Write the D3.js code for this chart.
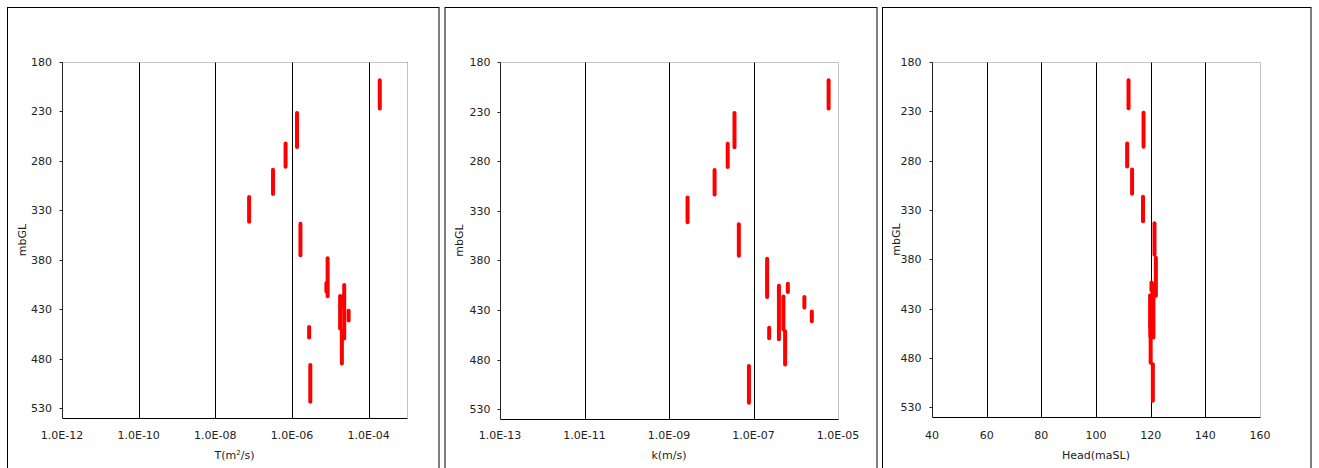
<!DOCTYPE html>
<html>
<head>
<meta charset="utf-8">
<script src="https://cdn.jsdelivr.net/npm/d3@7/dist/d3.min.js"></script>
<style>
  html, body { margin: 0; padding: 0; background: #fff; }
  svg { display: block; }
  text { font-family: "DejaVu Sans", sans-serif; font-size: 11px; fill: #222; }
</style>
</head>
<body>
<svg id="chart" width="1319" height="468"></svg>
<script>
// ---- Data ----
// Test intervals: top and bottom depth (mbGL)
const intervalTop    = [197, 230, 261, 287.5, 315, 342, 377, 402, 404, 415, 415.5, 430, 446.5, 450, 485];
const intervalBottom = [228.5, 267.5, 287.5, 315, 343, 377, 418.5, 413.5, 461, 451, 429, 443, 460, 486.5, 525];
// Transmissivity T (m2/s)
const transmissivity = [1.95e-4, 1.35e-6, 6.8e-7, 3.2e-7, 7.6e-8, 1.66e-6, 8.5e-6, 7.9e-6, 2.3e-5, 1.8e-5, 2.2e-5, 3.0e-5, 2.8e-6, 2.0e-5, 3.0e-6];
// Hydraulic conductivity k (m/s)
const conductivity = [6.0e-6, 3.55e-8, 2.45e-8, 1.2e-8, 2.75e-9, 4.5e-8, 2.1e-7, 6.5e-7, 4.0e-7, 5.1e-7, 1.6e-6, 2.4e-6, 2.35e-7, 5.6e-7, 7.8e-8];
// Head (maSL)
const head = [111.9, 117.4, 111.4, 113.2, 117.2, 121.4, 121.9, 120.3, 121.0, 119.8, 120.5, 120.6, 119.9, 120.0, 120.8];

// Axis ticks and labels
const depthTicks = [180, 230, 280, 330, 380, 430, 480, 530];
const depthDomain = [180, 540];
const tTicks = [1e-12, 1e-10, 1e-8, 1e-6, 1e-4];
const tTickLabels = ["1.0E-12", "1.0E-10", "1.0E-08", "1.0E-06", "1.0E-04"];
const tDomain = [1e-12, 1e-3];
const kTicks = [1e-13, 1e-11, 1e-9, 1e-7, 1e-5];
const kTickLabels = ["1.0E-13", "1.0E-11", "1.0E-09", "1.0E-07", "1.0E-05"];
const kDomain = [1e-13, 1e-5];
const headTicks = [40, 60, 80, 100, 120, 140, 160];
const headTickLabels = ["40", "60", "80", "100", "120", "140", "160"];
const headDomain = [40, 160];
const yTitle = "mbGL";

// ---- Layout ----
const svg = d3.select("#chart");

const panels = [
  { box: [7, 438.5], plot: { l: 62, r: 407, t: 62, b: 418 }, log: true,
    domain: tDomain, ticks: tTicks, labels: tTickLabels, values: transmissivity,
    title: "T", titleSup: true, yTitleX: 22, yLabelX: 52 },
  { box: [444.5, 876.5], plot: { l: 500, r: 838, t: 62, b: 419 }, log: true,
    domain: kDomain, ticks: kTicks, labels: kTickLabels, values: conductivity,
    title: "k(m/s)", yTitleX: 458.5, yLabelX: 490.5 },
  { box: [882, 1310.5], plot: { l: 932, r: 1260, t: 62, b: 417 }, log: false,
    domain: headDomain, ticks: headTicks, labels: headTickLabels, values: head,
    title: "Head(maSL)", yTitleX: 895.5, yLabelX: 921.5 }
];

panels.forEach(p => {
  const g = svg.append("g");
  const P = p.plot;
  // outer frame (bottom edge lies outside the window)
  g.append("rect")
    .attr("x", p.box[0] + 0.5).attr("y", 7.5)
    .attr("width", p.box[1] - p.box[0]).attr("height", 480)
    .attr("fill", "#fff").attr("stroke", "#000").attr("stroke-width", 1);

  const x = (p.log ? d3.scaleLog() : d3.scaleLinear()).domain(p.domain).range([P.l, P.r]);
  const y = d3.scaleLinear().domain(depthDomain).range([P.t, P.b]);
  const px = v => Math.round(v) + 0.5;

  // dotted top and right plot borders
  g.append("line").attr("x1", px(P.l)).attr("x2", px(P.r)).attr("y1", px(P.t)).attr("y2", px(P.t))
    .attr("stroke", "#888").attr("stroke-dasharray", "1,1");
  g.append("line").attr("x1", px(P.r)).attr("x2", px(P.r)).attr("y1", px(P.t)).attr("y2", px(P.b))
    .attr("stroke", "#888").attr("stroke-dasharray", "1,1");

  // vertical gridlines at inner ticks
  const inner = p.ticks.filter(t => x(t) > P.l + 1 && x(t) < P.r - 1);
  g.selectAll(".grid").data(inner).enter().append("line")
    .attr("x1", d => px(x(d))).attr("x2", d => px(x(d)))
    .attr("y1", px(P.t)).attr("y2", px(P.b))
    .attr("stroke", "#000").attr("stroke-width", 1);

  // left and bottom axis lines
  g.append("line").attr("x1", px(P.l)).attr("x2", px(P.l)).attr("y1", px(P.t)).attr("y2", px(P.b))
    .attr("stroke", "#222");
  g.append("line").attr("x1", px(P.l)).attr("x2", px(P.r)).attr("y1", px(P.b)).attr("y2", px(P.b))
    .attr("stroke", "#000");

  // y ticks + labels
  g.selectAll(".yt").data(depthTicks).enter().append("line")
    .attr("x1", px(P.l) - 3).attr("x2", px(P.l))
    .attr("y1", d => px(y(d))).attr("y2", d => px(y(d)))
    .attr("stroke", "#222");
  g.selectAll(".yl").data(depthTicks).enter().append("text")
    .attr("x", p.yLabelX).attr("y", d => y(d) + 4)
    .attr("text-anchor", "end").text(d => d);

  // x tick labels
  g.selectAll(".xl").data(p.ticks).enter().append("text")
    .attr("x", d => x(d)).attr("y", 439)
    .attr("text-anchor", "middle").text((d, i) => p.labels[i]);

  // x title
  const cx = (P.l + P.r) / 2;
  const tt = g.append("text").attr("x", cx).attr("y", 459).attr("text-anchor", "middle");
  if (p.titleSup) {
    tt.append("tspan").text("T(m");
    tt.append("tspan").attr("dy", -4).attr("font-size", "7px").text("2");
    tt.append("tspan").attr("dy", 4).text("/s)");
  } else {
    tt.text(p.title);
  }

  // y title
  g.append("text")
    .attr("transform", `translate(${p.yTitleX + 4},${(P.t + P.b) / 2}) rotate(-90)`)
    .attr("text-anchor", "middle").text(yTitle);

  // interval segments
  g.selectAll(".seg").data(p.values).enter().append("line")
    .attr("x1", d => x(d)).attr("x2", d => x(d))
    .attr("y1", (d, i) => y(intervalTop[i]) + 1.5)
    .attr("y2", (d, i) => y(intervalBottom[i]) - 1.5)
    .attr("stroke", "#ff0000").attr("stroke-width", 4).attr("stroke-linecap", "round");
});
</script>
</body>
</html>
